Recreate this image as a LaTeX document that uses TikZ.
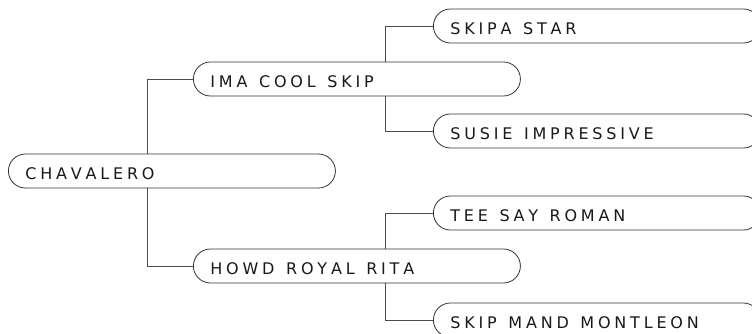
\documentclass[tikz,border=0pt]{standalone}
\usepackage{fontspec}
\newfontfamily\labfont{DejaVu Sans}
\newcommand\wsp{\hspace{4pt}}
\makeatletter
\newcommand\lspaced[1]{\makebox[293pt][l]{\lsp@i#1\relax}}
\def\lsp@i#1{\ifx#1\relax\else#1\kern3.8pt\expandafter\lsp@i\fi}
\makeatother
\begin{document}
\begin{tikzpicture}[x=1pt,y=-1pt,
  pill/.style={draw=black!80, line width=0.8pt, rounded corners=17pt, fill=white,
    minimum width=327pt, minimum height=34pt, inner xsep=17pt, inner ysep=0pt,
    text height=16.7pt, text depth=0pt,
    anchor=west, font=\labfont\fontsize{16}{19}\selectfont, text=black!90},
  link/.style={draw=black!70, line width=0.8pt}]
\clip (0,0) rectangle (752,334);
\useasboundingbox (0,0) rectangle (752,334);
\node[pill] (chav) at (8,171) {\lspaced{CHAVALERO}};
\node[pill] (ima) at (193,79) {\lspaced{IMA\wsp COOL\wsp SKIP}};
\node[pill] (howd) at (193,266) {\lspaced{HOWD\wsp ROYAL\wsp RITA}};
\node[pill] (skipa) at (433,26) {\lspaced{SKIPA\wsp STAR}};
\node[pill] (susie) at (433,131) {\lspaced{SUSIE\wsp IMPRESSIVE}};
\node[pill] (tee) at (433,213) {\lspaced{TEE\wsp SAY\wsp ROMAN}};
\node[pill] (skipm) at (433,320) {\lspaced{SKIP\wsp MAND\wsp MONTLEON}};
\coordinate (t1) at (147,0);
\coordinate (t2) at (385,0);
\draw[link] (ima.west) -| (t1 |- chav.north);
\draw[link] (howd.west) -| (t1 |- chav.south);
\draw[link] (skipa.west) -| (t2 |- ima.north);
\draw[link] (susie.west) -| (t2 |- ima.south);
\draw[link] (tee.west) -| (t2 |- howd.north);
\draw[link] (skipm.west) -| (t2 |- howd.south);
\end{tikzpicture}
\end{document}
